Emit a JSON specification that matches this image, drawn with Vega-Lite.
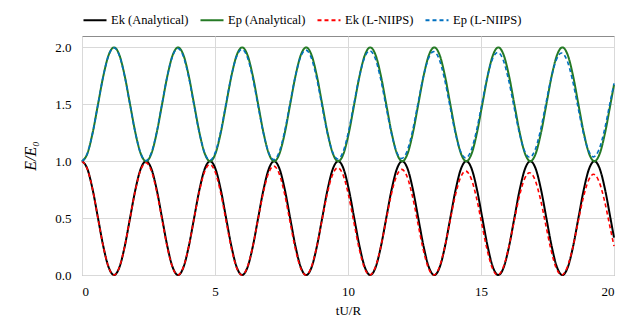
{
  "$schema": "https://vega.github.io/schema/vega-lite/v6.json",
  "width": 532,
  "height": 239,
  "autosize": {"type": "none"},
  "padding": {"left": 82, "top": 36, "right": 29, "bottom": 45},
  "background": "white",
  "config": {
    "view": {"stroke": "#8c8c8c", "strokeWidth": 1},
    "font": "Liberation Serif",
    "axis": {"labelFont": "Liberation Serif", "titleFont": "Liberation Serif"},
    "legend": {"labelFont": "Liberation Serif", "titleFont": "Liberation Serif"}
  },
  "datasets": {
    "ana": [
      {"t":0,"Ek (Analytical)":1,"Ep (Analytical)":1},
      {"t":0.201,"Ek (Analytical)":0.933,"Ep (Analytical)":1.067},
      {"t":0.401,"Ek (Analytical)":0.75,"Ep (Analytical)":1.25},
      {"t":0.602,"Ek (Analytical)":0.5,"Ep (Analytical)":1.5},
      {"t":0.803,"Ek (Analytical)":0.25,"Ep (Analytical)":1.75},
      {"t":1.003,"Ek (Analytical)":0.067,"Ep (Analytical)":1.933},
      {"t":1.204,"Ek (Analytical)":0,"Ep (Analytical)":2},
      {"t":1.405,"Ek (Analytical)":0.067,"Ep (Analytical)":1.933},
      {"t":1.605,"Ek (Analytical)":0.25,"Ep (Analytical)":1.75},
      {"t":1.806,"Ek (Analytical)":0.5,"Ep (Analytical)":1.5},
      {"t":2.007,"Ek (Analytical)":0.75,"Ep (Analytical)":1.25},
      {"t":2.207,"Ek (Analytical)":0.933,"Ep (Analytical)":1.067},
      {"t":2.408,"Ek (Analytical)":1,"Ep (Analytical)":1},
      {"t":2.609,"Ek (Analytical)":0.933,"Ep (Analytical)":1.067},
      {"t":2.809,"Ek (Analytical)":0.75,"Ep (Analytical)":1.25},
      {"t":3.010,"Ek (Analytical)":0.5,"Ep (Analytical)":1.5},
      {"t":3.211,"Ek (Analytical)":0.25,"Ep (Analytical)":1.75},
      {"t":3.411,"Ek (Analytical)":0.067,"Ep (Analytical)":1.933},
      {"t":3.612,"Ek (Analytical)":0,"Ep (Analytical)":2},
      {"t":3.813,"Ek (Analytical)":0.067,"Ep (Analytical)":1.933},
      {"t":4.013,"Ek (Analytical)":0.25,"Ep (Analytical)":1.75},
      {"t":4.214,"Ek (Analytical)":0.5,"Ep (Analytical)":1.5},
      {"t":4.415,"Ek (Analytical)":0.75,"Ep (Analytical)":1.25},
      {"t":4.615,"Ek (Analytical)":0.933,"Ep (Analytical)":1.067},
      {"t":4.816,"Ek (Analytical)":1,"Ep (Analytical)":1},
      {"t":5.017,"Ek (Analytical)":0.933,"Ep (Analytical)":1.067},
      {"t":5.217,"Ek (Analytical)":0.75,"Ep (Analytical)":1.25},
      {"t":5.418,"Ek (Analytical)":0.5,"Ep (Analytical)":1.5},
      {"t":5.619,"Ek (Analytical)":0.25,"Ep (Analytical)":1.75},
      {"t":5.819,"Ek (Analytical)":0.067,"Ep (Analytical)":1.933},
      {"t":6.020,"Ek (Analytical)":0,"Ep (Analytical)":2},
      {"t":6.221,"Ek (Analytical)":0.067,"Ep (Analytical)":1.933},
      {"t":6.421,"Ek (Analytical)":0.25,"Ep (Analytical)":1.75},
      {"t":6.622,"Ek (Analytical)":0.5,"Ep (Analytical)":1.5},
      {"t":6.823,"Ek (Analytical)":0.75,"Ep (Analytical)":1.25},
      {"t":7.023,"Ek (Analytical)":0.933,"Ep (Analytical)":1.067},
      {"t":7.224,"Ek (Analytical)":1,"Ep (Analytical)":1},
      {"t":7.425,"Ek (Analytical)":0.933,"Ep (Analytical)":1.067},
      {"t":7.625,"Ek (Analytical)":0.75,"Ep (Analytical)":1.25},
      {"t":7.826,"Ek (Analytical)":0.5,"Ep (Analytical)":1.5},
      {"t":8.027,"Ek (Analytical)":0.25,"Ep (Analytical)":1.75},
      {"t":8.227,"Ek (Analytical)":0.067,"Ep (Analytical)":1.933},
      {"t":8.428,"Ek (Analytical)":0,"Ep (Analytical)":2},
      {"t":8.629,"Ek (Analytical)":0.067,"Ep (Analytical)":1.933},
      {"t":8.829,"Ek (Analytical)":0.25,"Ep (Analytical)":1.75},
      {"t":9.030,"Ek (Analytical)":0.5,"Ep (Analytical)":1.5},
      {"t":9.231,"Ek (Analytical)":0.75,"Ep (Analytical)":1.25},
      {"t":9.431,"Ek (Analytical)":0.933,"Ep (Analytical)":1.067},
      {"t":9.632,"Ek (Analytical)":1,"Ep (Analytical)":1},
      {"t":9.833,"Ek (Analytical)":0.933,"Ep (Analytical)":1.067},
      {"t":10.033,"Ek (Analytical)":0.75,"Ep (Analytical)":1.25},
      {"t":10.234,"Ek (Analytical)":0.5,"Ep (Analytical)":1.5},
      {"t":10.435,"Ek (Analytical)":0.25,"Ep (Analytical)":1.75},
      {"t":10.635,"Ek (Analytical)":0.067,"Ep (Analytical)":1.933},
      {"t":10.836,"Ek (Analytical)":0,"Ep (Analytical)":2},
      {"t":11.037,"Ek (Analytical)":0.067,"Ep (Analytical)":1.933},
      {"t":11.237,"Ek (Analytical)":0.25,"Ep (Analytical)":1.75},
      {"t":11.438,"Ek (Analytical)":0.5,"Ep (Analytical)":1.5},
      {"t":11.639,"Ek (Analytical)":0.75,"Ep (Analytical)":1.25},
      {"t":11.839,"Ek (Analytical)":0.933,"Ep (Analytical)":1.067},
      {"t":12.040,"Ek (Analytical)":1,"Ep (Analytical)":1},
      {"t":12.241,"Ek (Analytical)":0.933,"Ep (Analytical)":1.067},
      {"t":12.441,"Ek (Analytical)":0.75,"Ep (Analytical)":1.25},
      {"t":12.642,"Ek (Analytical)":0.5,"Ep (Analytical)":1.5},
      {"t":12.843,"Ek (Analytical)":0.25,"Ep (Analytical)":1.75},
      {"t":13.043,"Ek (Analytical)":0.067,"Ep (Analytical)":1.933},
      {"t":13.244,"Ek (Analytical)":0,"Ep (Analytical)":2},
      {"t":13.445,"Ek (Analytical)":0.067,"Ep (Analytical)":1.933},
      {"t":13.645,"Ek (Analytical)":0.25,"Ep (Analytical)":1.75},
      {"t":13.846,"Ek (Analytical)":0.5,"Ep (Analytical)":1.5},
      {"t":14.047,"Ek (Analytical)":0.75,"Ep (Analytical)":1.25},
      {"t":14.247,"Ek (Analytical)":0.933,"Ep (Analytical)":1.067},
      {"t":14.448,"Ek (Analytical)":1,"Ep (Analytical)":1},
      {"t":14.649,"Ek (Analytical)":0.933,"Ep (Analytical)":1.067},
      {"t":14.849,"Ek (Analytical)":0.75,"Ep (Analytical)":1.25},
      {"t":15.050,"Ek (Analytical)":0.5,"Ep (Analytical)":1.5},
      {"t":15.251,"Ek (Analytical)":0.25,"Ep (Analytical)":1.75},
      {"t":15.451,"Ek (Analytical)":0.067,"Ep (Analytical)":1.933},
      {"t":15.652,"Ek (Analytical)":0,"Ep (Analytical)":2},
      {"t":15.853,"Ek (Analytical)":0.067,"Ep (Analytical)":1.933},
      {"t":16.053,"Ek (Analytical)":0.25,"Ep (Analytical)":1.75},
      {"t":16.254,"Ek (Analytical)":0.5,"Ep (Analytical)":1.5},
      {"t":16.455,"Ek (Analytical)":0.75,"Ep (Analytical)":1.25},
      {"t":16.655,"Ek (Analytical)":0.933,"Ep (Analytical)":1.067},
      {"t":16.856,"Ek (Analytical)":1,"Ep (Analytical)":1},
      {"t":17.057,"Ek (Analytical)":0.933,"Ep (Analytical)":1.067},
      {"t":17.257,"Ek (Analytical)":0.75,"Ep (Analytical)":1.25},
      {"t":17.458,"Ek (Analytical)":0.5,"Ep (Analytical)":1.5},
      {"t":17.659,"Ek (Analytical)":0.25,"Ep (Analytical)":1.75},
      {"t":17.859,"Ek (Analytical)":0.067,"Ep (Analytical)":1.933},
      {"t":18.060,"Ek (Analytical)":0,"Ep (Analytical)":2},
      {"t":18.261,"Ek (Analytical)":0.067,"Ep (Analytical)":1.933},
      {"t":18.461,"Ek (Analytical)":0.25,"Ep (Analytical)":1.75},
      {"t":18.662,"Ek (Analytical)":0.5,"Ep (Analytical)":1.5},
      {"t":18.863,"Ek (Analytical)":0.75,"Ep (Analytical)":1.25},
      {"t":19.063,"Ek (Analytical)":0.933,"Ep (Analytical)":1.067},
      {"t":19.264,"Ek (Analytical)":1,"Ep (Analytical)":1},
      {"t":19.465,"Ek (Analytical)":0.933,"Ep (Analytical)":1.067},
      {"t":19.665,"Ek (Analytical)":0.75,"Ep (Analytical)":1.25},
      {"t":19.866,"Ek (Analytical)":0.5,"Ep (Analytical)":1.5},
      {"t":20,"Ek (Analytical)":0.329,"Ep (Analytical)":1.671}
    ],
    "num": [
      {"t":0,"Ek (L-NIIPS)":1,"Ep (L-NIIPS)":1},
      {"t":0.2,"Ek (L-NIIPS)":0.932,"Ep (L-NIIPS)":1.067},
      {"t":0.401,"Ek (L-NIIPS)":0.748,"Ep (L-NIIPS)":1.25},
      {"t":0.601,"Ek (L-NIIPS)":0.498,"Ep (L-NIIPS)":1.5},
      {"t":0.801,"Ek (L-NIIPS)":0.249,"Ep (L-NIIPS)":1.749},
      {"t":1.002,"Ek (L-NIIPS)":0.067,"Ep (L-NIIPS)":1.931},
      {"t":1.202,"Ek (L-NIIPS)":0,"Ep (L-NIIPS)":1.997},
      {"t":1.402,"Ek (L-NIIPS)":0.066,"Ep (L-NIIPS)":1.93},
      {"t":1.603,"Ek (L-NIIPS)":0.248,"Ep (L-NIIPS)":1.747},
      {"t":1.803,"Ek (L-NIIPS)":0.495,"Ep (L-NIIPS)":1.499},
      {"t":2.003,"Ek (L-NIIPS)":0.741,"Ep (L-NIIPS)":1.252},
      {"t":2.204,"Ek (L-NIIPS)":0.921,"Ep (L-NIIPS)":1.071},
      {"t":2.404,"Ek (L-NIIPS)":0.986,"Ep (L-NIIPS)":1.005},
      {"t":2.604,"Ek (L-NIIPS)":0.918,"Ep (L-NIIPS)":1.071},
      {"t":2.805,"Ek (L-NIIPS)":0.737,"Ep (L-NIIPS)":1.252},
      {"t":3.005,"Ek (L-NIIPS)":0.491,"Ep (L-NIIPS)":1.499},
      {"t":3.205,"Ek (L-NIIPS)":0.245,"Ep (L-NIIPS)":1.745},
      {"t":3.406,"Ek (L-NIIPS)":0.066,"Ep (L-NIIPS)":1.925},
      {"t":3.606,"Ek (L-NIIPS)":0,"Ep (L-NIIPS)":1.99},
      {"t":3.806,"Ek (L-NIIPS)":0.065,"Ep (L-NIIPS)":1.924},
      {"t":4.007,"Ek (L-NIIPS)":0.244,"Ep (L-NIIPS)":1.744},
      {"t":4.207,"Ek (L-NIIPS)":0.487,"Ep (L-NIIPS)":1.498},
      {"t":4.407,"Ek (L-NIIPS)":0.73,"Ep (L-NIIPS)":1.254},
      {"t":4.608,"Ek (L-NIIPS)":0.907,"Ep (L-NIIPS)":1.075},
      {"t":4.808,"Ek (L-NIIPS)":0.971,"Ep (L-NIIPS)":1.01},
      {"t":5.008,"Ek (L-NIIPS)":0.905,"Ep (L-NIIPS)":1.075},
      {"t":5.209,"Ek (L-NIIPS)":0.727,"Ep (L-NIIPS)":1.254},
      {"t":5.409,"Ek (L-NIIPS)":0.484,"Ep (L-NIIPS)":1.498},
      {"t":5.609,"Ek (L-NIIPS)":0.242,"Ep (L-NIIPS)":1.741},
      {"t":5.81,"Ek (L-NIIPS)":0.065,"Ep (L-NIIPS)":1.919},
      {"t":6.01,"Ek (L-NIIPS)":0,"Ep (L-NIIPS)":1.983},
      {"t":6.21,"Ek (L-NIIPS)":0.065,"Ep (L-NIIPS)":1.918},
      {"t":6.411,"Ek (L-NIIPS)":0.24,"Ep (L-NIIPS)":1.74},
      {"t":6.611,"Ek (L-NIIPS)":0.48,"Ep (L-NIIPS)":1.497},
      {"t":6.811,"Ek (L-NIIPS)":0.719,"Ep (L-NIIPS)":1.255},
      {"t":7.012,"Ek (L-NIIPS)":0.894,"Ep (L-NIIPS)":1.079},
      {"t":7.212,"Ek (L-NIIPS)":0.957,"Ep (L-NIIPS)":1.014},
      {"t":7.412,"Ek (L-NIIPS)":0.891,"Ep (L-NIIPS)":1.079},
      {"t":7.613,"Ek (L-NIIPS)":0.716,"Ep (L-NIIPS)":1.256},
      {"t":7.813,"Ek (L-NIIPS)":0.477,"Ep (L-NIIPS)":1.497},
      {"t":8.013,"Ek (L-NIIPS)":0.238,"Ep (L-NIIPS)":1.737},
      {"t":8.214,"Ek (L-NIIPS)":0.064,"Ep (L-NIIPS)":1.913},
      {"t":8.414,"Ek (L-NIIPS)":0,"Ep (L-NIIPS)":1.976},
      {"t":8.614,"Ek (L-NIIPS)":0.064,"Ep (L-NIIPS)":1.912},
      {"t":8.815,"Ek (L-NIIPS)":0.237,"Ep (L-NIIPS)":1.736},
      {"t":9.015,"Ek (L-NIIPS)":0.473,"Ep (L-NIIPS)":1.496},
      {"t":9.215,"Ek (L-NIIPS)":0.709,"Ep (L-NIIPS)":1.257},
      {"t":9.416,"Ek (L-NIIPS)":0.88,"Ep (L-NIIPS)":1.083},
      {"t":9.616,"Ek (L-NIIPS)":0.942,"Ep (L-NIIPS)":1.019},
      {"t":9.816,"Ek (L-NIIPS)":0.878,"Ep (L-NIIPS)":1.083},
      {"t":10.017,"Ek (L-NIIPS)":0.705,"Ep (L-NIIPS)":1.258},
      {"t":10.217,"Ek (L-NIIPS)":0.469,"Ep (L-NIIPS)":1.496},
      {"t":10.417,"Ek (L-NIIPS)":0.234,"Ep (L-NIIPS)":1.733},
      {"t":10.618,"Ek (L-NIIPS)":0.063,"Ep (L-NIIPS)":1.907},
      {"t":10.818,"Ek (L-NIIPS)":0,"Ep (L-NIIPS)":1.97},
      {"t":11.018,"Ek (L-NIIPS)":0.063,"Ep (L-NIIPS)":1.906},
      {"t":11.219,"Ek (L-NIIPS)":0.233,"Ep (L-NIIPS)":1.732},
      {"t":11.419,"Ek (L-NIIPS)":0.466,"Ep (L-NIIPS)":1.495},
      {"t":11.619,"Ek (L-NIIPS)":0.698,"Ep (L-NIIPS)":1.259},
      {"t":11.82,"Ek (L-NIIPS)":0.867,"Ep (L-NIIPS)":1.087},
      {"t":12.02,"Ek (L-NIIPS)":0.928,"Ep (L-NIIPS)":1.024},
      {"t":12.22,"Ek (L-NIIPS)":0.865,"Ep (L-NIIPS)":1.088},
      {"t":12.421,"Ek (L-NIIPS)":0.694,"Ep (L-NIIPS)":1.26},
      {"t":12.621,"Ek (L-NIIPS)":0.462,"Ep (L-NIIPS)":1.495},
      {"t":12.821,"Ek (L-NIIPS)":0.231,"Ep (L-NIIPS)":1.73},
      {"t":13.022,"Ek (L-NIIPS)":0.062,"Ep (L-NIIPS)":1.901},
      {"t":13.222,"Ek (L-NIIPS)":0,"Ep (L-NIIPS)":1.963},
      {"t":13.422,"Ek (L-NIIPS)":0.062,"Ep (L-NIIPS)":1.9},
      {"t":13.623,"Ek (L-NIIPS)":0.23,"Ep (L-NIIPS)":1.728},
      {"t":13.823,"Ek (L-NIIPS)":0.459,"Ep (L-NIIPS)":1.495},
      {"t":14.023,"Ek (L-NIIPS)":0.687,"Ep (L-NIIPS)":1.261},
      {"t":14.224,"Ek (L-NIIPS)":0.853,"Ep (L-NIIPS)":1.091},
      {"t":14.424,"Ek (L-NIIPS)":0.913,"Ep (L-NIIPS)":1.029},
      {"t":14.624,"Ek (L-NIIPS)":0.851,"Ep (L-NIIPS)":1.092},
      {"t":14.825,"Ek (L-NIIPS)":0.683,"Ep (L-NIIPS)":1.262},
      {"t":15.025,"Ek (L-NIIPS)":0.455,"Ep (L-NIIPS)":1.494},
      {"t":15.225,"Ek (L-NIIPS)":0.227,"Ep (L-NIIPS)":1.726},
      {"t":15.426,"Ek (L-NIIPS)":0.061,"Ep (L-NIIPS)":1.895},
      {"t":15.626,"Ek (L-NIIPS)":0,"Ep (L-NIIPS)":1.956},
      {"t":15.826,"Ek (L-NIIPS)":0.061,"Ep (L-NIIPS)":1.894},
      {"t":16.027,"Ek (L-NIIPS)":0.226,"Ep (L-NIIPS)":1.724},
      {"t":16.227,"Ek (L-NIIPS)":0.451,"Ep (L-NIIPS)":1.494},
      {"t":16.427,"Ek (L-NIIPS)":0.676,"Ep (L-NIIPS)":1.263},
      {"t":16.628,"Ek (L-NIIPS)":0.84,"Ep (L-NIIPS)":1.095},
      {"t":16.828,"Ek (L-NIIPS)":0.899,"Ep (L-NIIPS)":1.034},
      {"t":17.028,"Ek (L-NIIPS)":0.838,"Ep (L-NIIPS)":1.096},
      {"t":17.229,"Ek (L-NIIPS)":0.672,"Ep (L-NIIPS)":1.264},
      {"t":17.429,"Ek (L-NIIPS)":0.448,"Ep (L-NIIPS)":1.493},
      {"t":17.629,"Ek (L-NIIPS)":0.224,"Ep (L-NIIPS)":1.722},
      {"t":17.83,"Ek (L-NIIPS)":0.06,"Ep (L-NIIPS)":1.889},
      {"t":18.03,"Ek (L-NIIPS)":0,"Ep (L-NIIPS)":1.95},
      {"t":18.23,"Ek (L-NIIPS)":0.06,"Ep (L-NIIPS)":1.888},
      {"t":18.431,"Ek (L-NIIPS)":0.222,"Ep (L-NIIPS)":1.721},
      {"t":18.631,"Ek (L-NIIPS)":0.444,"Ep (L-NIIPS)":1.493},
      {"t":18.831,"Ek (L-NIIPS)":0.665,"Ep (L-NIIPS)":1.265},
      {"t":19.032,"Ek (L-NIIPS)":0.826,"Ep (L-NIIPS)":1.099},
      {"t":19.232,"Ek (L-NIIPS)":0.885,"Ep (L-NIIPS)":1.038},
      {"t":19.432,"Ek (L-NIIPS)":0.824,"Ep (L-NIIPS)":1.1},
      {"t":19.633,"Ek (L-NIIPS)":0.662,"Ep (L-NIIPS)":1.266},
      {"t":19.833,"Ek (L-NIIPS)":0.441,"Ep (L-NIIPS)":1.492},
      {"t":20,"Ek (L-NIIPS)":0.254,"Ep (L-NIIPS)":1.683}
    ]
  },
  "encoding": {
    "x": {
      "field": "t", "type": "quantitative",
      "scale": {"domain": [0, 20], "nice": false},
      "axis": {
        "values": [0, 5, 10, 15, 20], "title": "tU/R",
        "grid": true, "gridColor": "#d9d9d9", "domain": false, "ticks": false,
        "labelFont": "Liberation Serif", "labelFontSize": 13, "labelColor": "#000000", "labelPadding": 10,
        "titleFont": "Liberation Serif", "titleFontSize": 13, "titleFontWeight": "normal", "titleColor": "#000000", "titlePadding": 6
      }
    },
    "y": {
      "field": "E", "type": "quantitative",
      "scale": {"domain": [0, 2.1], "nice": false},
      "axis": {
        "values": [0, 0.5, 1, 1.5, 2], "format": ".1f", "title": "E/E₀",
        "grid": true, "gridColor": "#d9d9d9", "domain": false, "ticks": false,
        "labelFont": "Liberation Serif", "labelFontSize": 13, "labelColor": "#000000", "labelPadding": 11,
        "titleFont": "Liberation Serif", "titleFontSize": 16, "titleFontWeight": "normal", "titleFontStyle": "italic", "titleColor": "#000000", "titlePadding": 16
      }
    },
    "color": {
      "field": "series", "type": "nominal",
      "scale": {"domain": ["Ek (Analytical)", "Ep (Analytical)", "Ek (L-NIIPS)", "Ep (L-NIIPS)"], "range": ["#000000", "#257a25", "#ff0000", "#0070c0"]},
      "legend": {"title": null, "orient": "none", "legendX": 0, "legendY": -29, "direction": "horizontal", "symbolType": "stroke", "symbolSize": 530, "symbolStrokeWidth": 2, "labelFont": "Liberation Serif", "labelFontSize": 12.5, "labelColor": "#000000", "columnPadding": 7, "labelOffset": 3}
    },
    "strokeDash": {
      "field": "series", "type": "nominal",
      "scale": {"domain": ["Ek (Analytical)", "Ep (Analytical)", "Ek (L-NIIPS)", "Ep (L-NIIPS)"], "range": [[1, 0], [1, 0], [4, 3], [4, 3]]},
      "legend": {"title": null, "orient": "none", "legendX": 0, "legendY": -29, "direction": "horizontal", "symbolType": "stroke", "symbolSize": 530, "symbolStrokeWidth": 2, "labelFont": "Liberation Serif", "labelFontSize": 12.5, "labelColor": "#000000", "columnPadding": 7, "labelOffset": 3}
    }
  },
  "layer": [
    {
      "data": {"name": "ana"},
      "transform": [{"fold": ["Ek (Analytical)", "Ep (Analytical)"], "as": ["series", "E"]}],
      "mark": {"type": "line", "interpolate": "monotone", "strokeWidth": 2}
    },
    {
      "data": {"name": "num"},
      "transform": [{"fold": ["Ek (L-NIIPS)", "Ep (L-NIIPS)"], "as": ["series", "E"]}],
      "mark": {"type": "line", "interpolate": "monotone", "strokeWidth": 1.6}
    }
  ]
}
